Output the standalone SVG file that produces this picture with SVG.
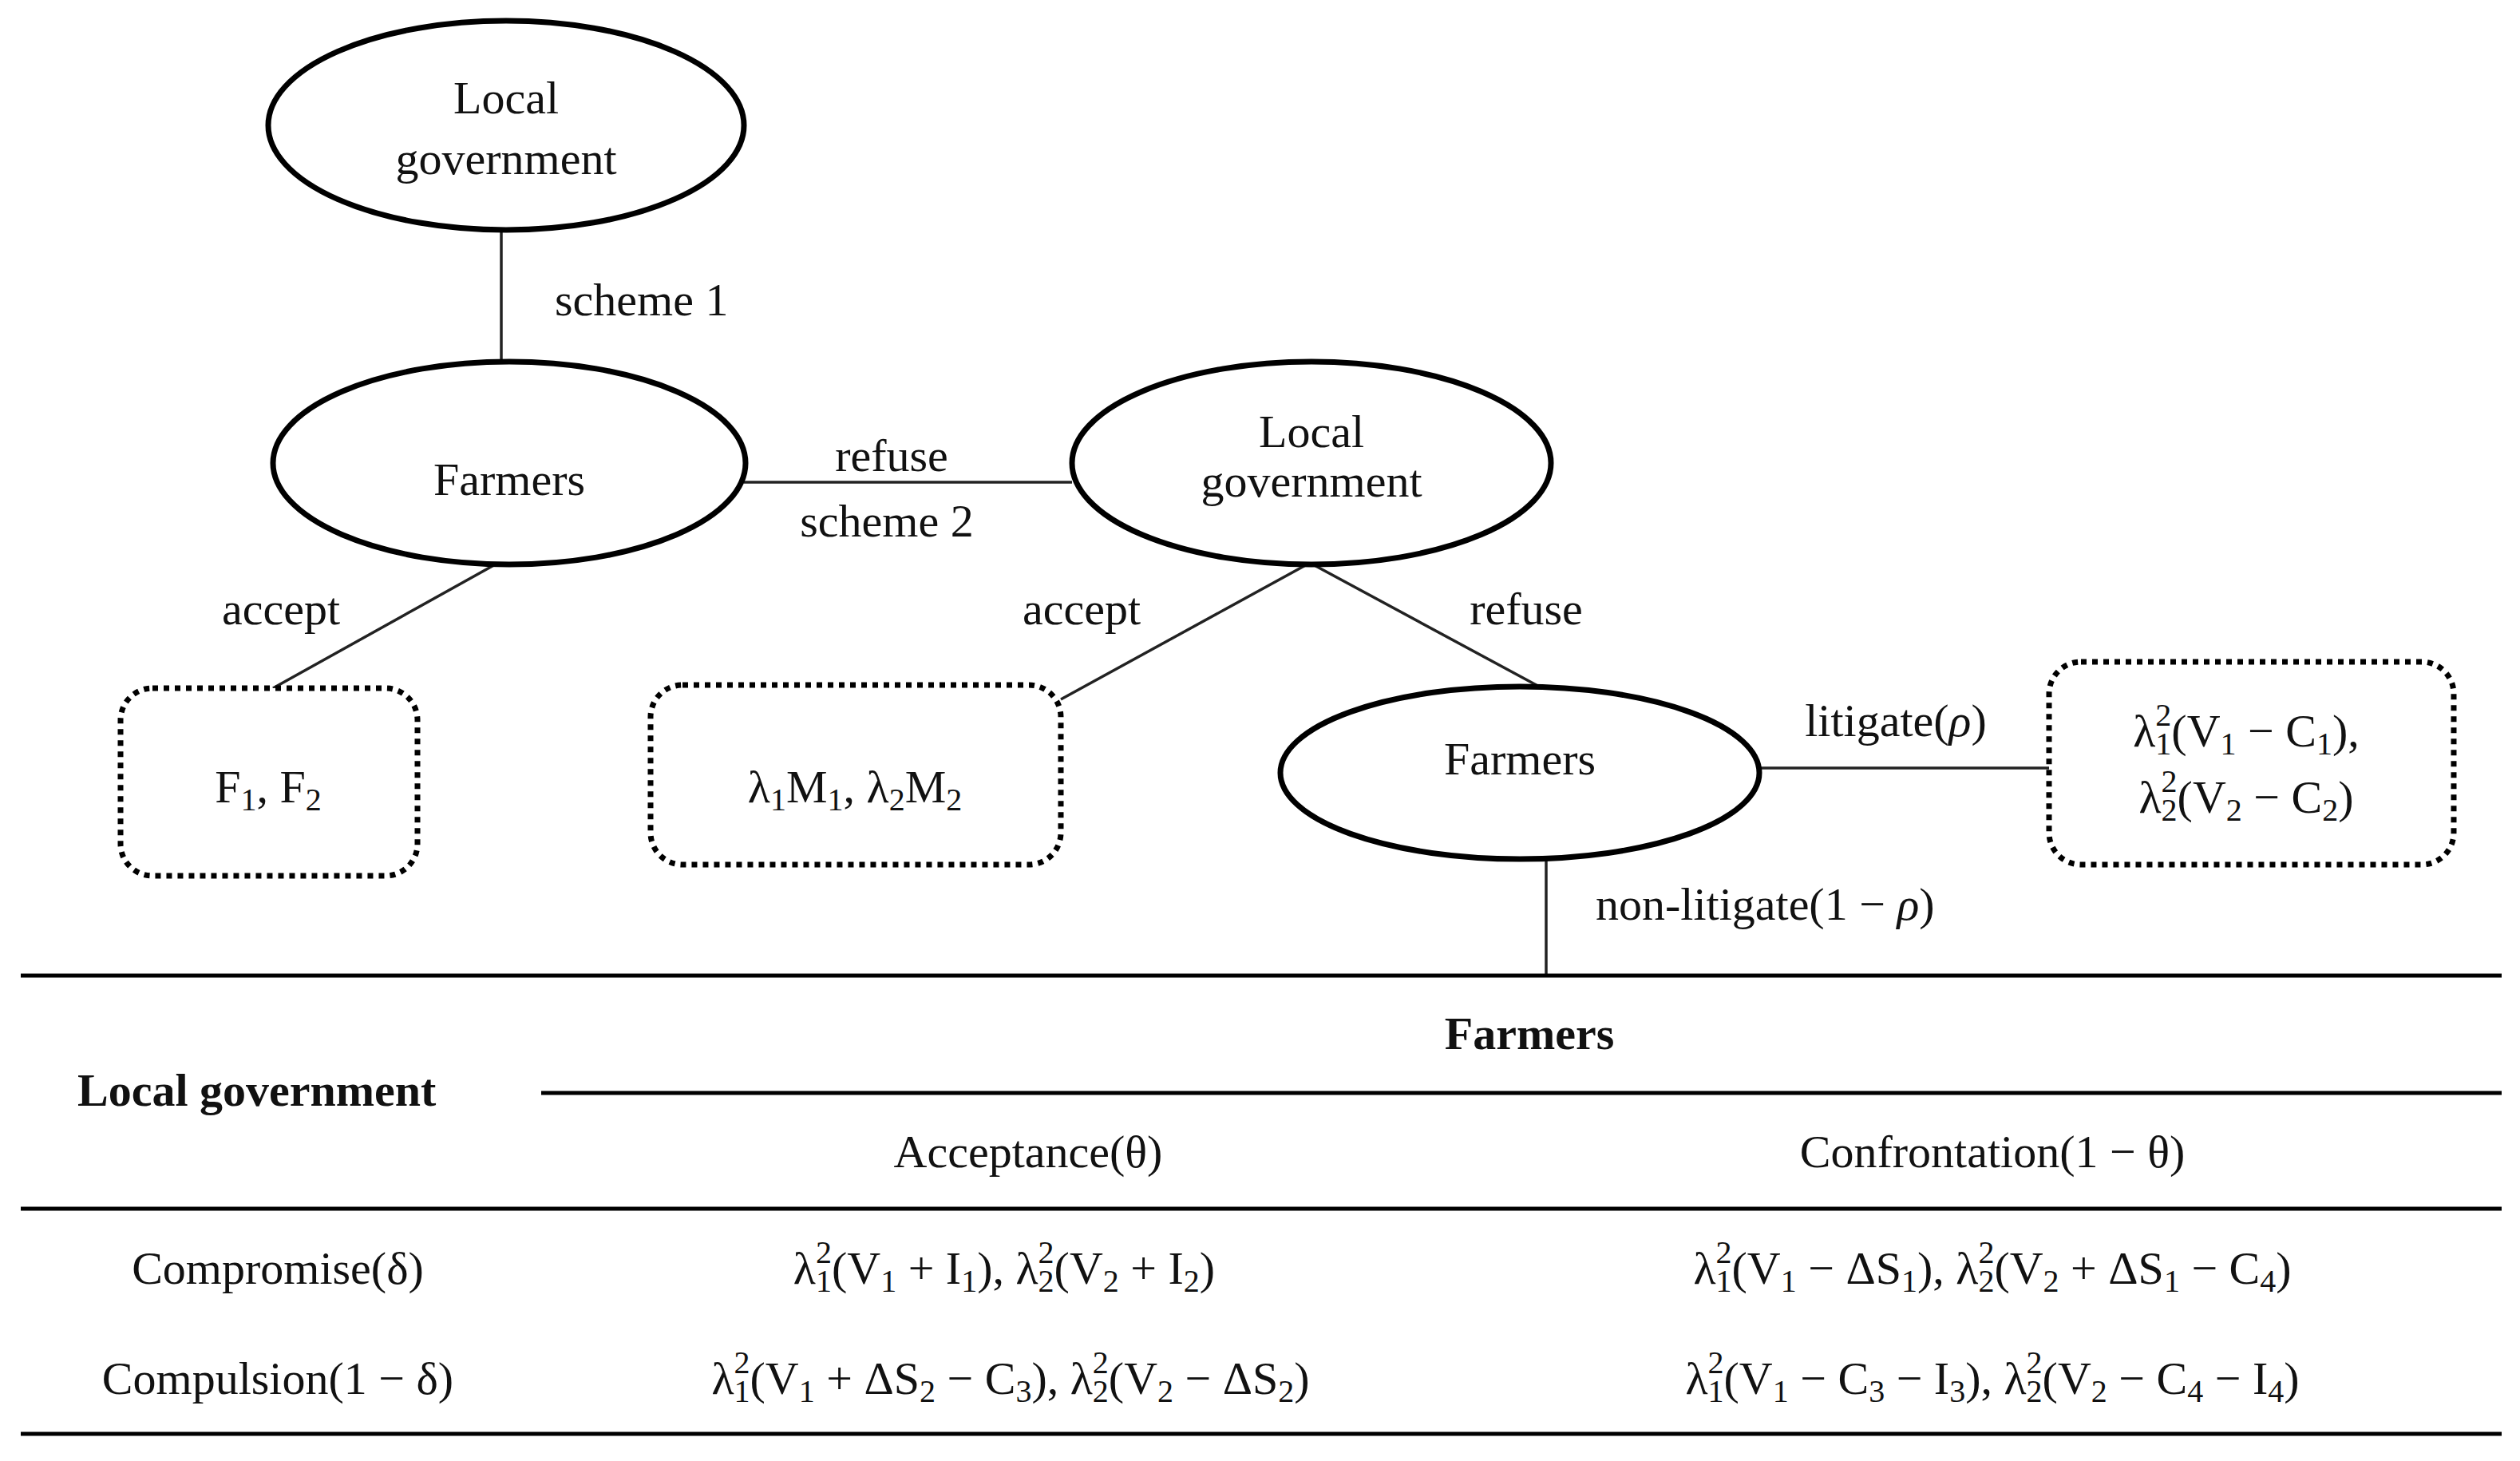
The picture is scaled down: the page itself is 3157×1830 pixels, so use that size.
<svg xmlns="http://www.w3.org/2000/svg" width="3157" height="1830" viewBox="0 0 3157 1830">
<style>
text{font-family:"Liberation Serif","DejaVu Serif",serif;font-size:58px;fill:#111}
.c{text-anchor:middle}
.b{font-weight:bold}
.n{fill:#fff;stroke:#000;stroke-width:7}
.d{fill:#fff;stroke:#000;stroke-width:7;stroke-dasharray:7 7}
.l{stroke:#222;stroke-width:3.5;fill:none}
.t{stroke:#000;stroke-width:5}
.sb{font-size:40px;baseline-shift:-10px}
.sp{font-size:40px;baseline-shift:26px}
</style>
<rect width="3157" height="1830" fill="#fff"/>
<g id="connectors">
<line class="l" x1="628" y1="288" x2="628" y2="453"/>
<line class="l" x1="932" y1="604" x2="1343" y2="604"/>
<line class="l" x1="624" y1="705" x2="342" y2="862"/>
<line class="l" x1="1641" y1="705" x2="1329" y2="876"/>
<line class="l" x1="1641" y1="705" x2="1932" y2="862"/>
<line class="l" x1="2204" y1="962" x2="2567" y2="962"/>
<line class="l" x1="1937" y1="1076" x2="1937" y2="1222"/>
<text x="695" y="395">scheme 1</text>
<text class="c" x="1117" y="590">refuse</text>
<text class="c" x="1111" y="672">scheme 2</text>
<text class="c" x="352" y="782">accept</text>
<text class="c" x="1355" y="782">accept</text>
<text class="c" x="1912" y="782">refuse</text>
<text class="c" x="2375" y="922">litigate(<tspan font-style="italic">ρ</tspan>)</text>
<text x="1999" y="1152">non-litigate(1 − <tspan font-style="italic">ρ</tspan>)</text>
</g>
<g id="lg1"><ellipse class="n" cx="634" cy="157" rx="298" ry="131"/><text class="c" x="634" y="142">Local</text><text class="c" x="634" y="218">government</text></g>
<g id="farmers1"><ellipse class="n" cx="638" cy="580" rx="296" ry="127"/><text class="c" x="638" y="620">Farmers</text></g>
<g id="lg2"><ellipse class="n" cx="1643" cy="580" rx="300" ry="127"/><text class="c" x="1643" y="560">Local</text><text class="c" x="1643" y="622">government</text></g>
<g id="farmers2"><ellipse class="n" cx="1904" cy="968" rx="300" ry="108"/><text class="c" x="1904" y="970">Farmers</text></g>
<g id="payoffF"><rect class="d" x="151" y="862" width="372" height="235" rx="40"/><text class="c" x="336" y="1005">F<tspan class="sb">1</tspan>, F<tspan class="sb">2</tspan></text></g>
<g id="payoffM"><rect class="d" x="815" y="858" width="514" height="225" rx="40"/><text class="c" x="1071" y="1005">λ<tspan class="sb">1</tspan>M<tspan class="sb">1</tspan>, λ<tspan class="sb">2</tspan>M<tspan class="sb">2</tspan></text></g>
<g id="payoffL"><rect class="d" x="2567" y="829" width="507" height="254" rx="40"/>
<text class="c" x="2814" y="935">λ<tspan class="sb">1</tspan><tspan class="sp" dx="-20">2</tspan>(V<tspan class="sb">1</tspan> − C<tspan class="sb">1</tspan>),</text>
<text class="c" x="2814" y="1018">λ<tspan class="sb">2</tspan><tspan class="sp" dx="-20">2</tspan>(V<tspan class="sb">2</tspan> − C<tspan class="sb">2</tspan>)</text></g>
<g id="table">
<line class="t" x1="26" y1="1222" x2="3134" y2="1222"/>
<line class="t" x1="678" y1="1369" x2="3134" y2="1369"/>
<line class="t" x1="26" y1="1514" x2="3134" y2="1514"/>
<line class="t" x1="26" y1="1796" x2="3134" y2="1796"/>
<text class="c b" x="1916" y="1314">Farmers</text>
<text class="b" x="97" y="1385">Local government</text>
<text class="c" x="1288" y="1462">Acceptance(θ)</text>
<text class="c" x="2496" y="1462">Confrontation(1 − θ)</text>
<text class="c" x="348" y="1608">Compromise(δ)</text>
<text class="c" x="348" y="1746">Compulsion(1 − δ)</text>
<text class="c" x="1258" y="1608">λ<tspan class="sb">1</tspan><tspan class="sp" dx="-20">2</tspan>(V<tspan class="sb">1</tspan> + I<tspan class="sb">1</tspan>), λ<tspan class="sb">2</tspan><tspan class="sp" dx="-20">2</tspan>(V<tspan class="sb">2</tspan> + I<tspan class="sb">2</tspan>)</text>
<text class="c" x="2496" y="1608">λ<tspan class="sb">1</tspan><tspan class="sp" dx="-20">2</tspan>(V<tspan class="sb">1</tspan> − ΔS<tspan class="sb">1</tspan>), λ<tspan class="sb">2</tspan><tspan class="sp" dx="-20">2</tspan>(V<tspan class="sb">2</tspan> + ΔS<tspan class="sb">1</tspan> − C<tspan class="sb">4</tspan>)</text>
<text class="c" x="1266" y="1746">λ<tspan class="sb">1</tspan><tspan class="sp" dx="-20">2</tspan>(V<tspan class="sb">1</tspan> + ΔS<tspan class="sb">2</tspan> − C<tspan class="sb">3</tspan>), λ<tspan class="sb">2</tspan><tspan class="sp" dx="-20">2</tspan>(V<tspan class="sb">2</tspan> − ΔS<tspan class="sb">2</tspan>)</text>
<text class="c" x="2496" y="1746">λ<tspan class="sb">1</tspan><tspan class="sp" dx="-20">2</tspan>(V<tspan class="sb">1</tspan> − C<tspan class="sb">3</tspan> − I<tspan class="sb">3</tspan>), λ<tspan class="sb">2</tspan><tspan class="sp" dx="-20">2</tspan>(V<tspan class="sb">2</tspan> − C<tspan class="sb">4</tspan> − I<tspan class="sb">4</tspan>)</text>
</g>
</svg>
